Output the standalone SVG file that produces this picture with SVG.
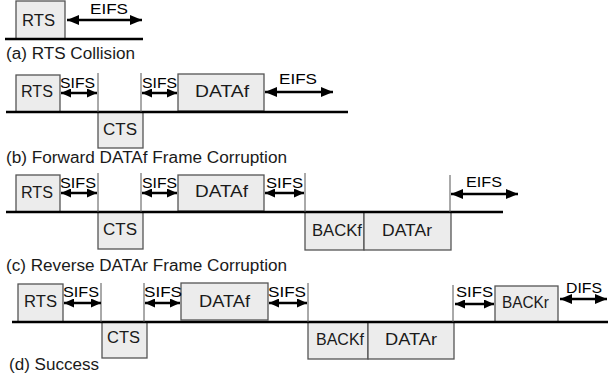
<svg xmlns="http://www.w3.org/2000/svg" width="608" height="381" viewBox="0 0 608 381">
<style>
text{font-family:"Liberation Sans",Arial,sans-serif;font-size:16px;fill:#1a1a1a}
.st{font-size:15.5px;fill:#000}
.box{fill:#ececec;stroke:#555;stroke-width:1.3}
.base{stroke:#000;stroke-width:2.4}
.vl{stroke:#555;stroke-width:1}
.ar{stroke:#000;stroke-width:2.5;marker-start:url(#h);marker-end:url(#h)}
.ars{stroke:#000;stroke-width:2.5;marker-start:url(#hs);marker-end:url(#hs)}
</style>
<defs>
<marker id="h" markerUnits="userSpaceOnUse" markerWidth="12" markerHeight="10" refX="12" refY="5" orient="auto-start-reverse" viewBox="0 0 12 10"><path d="M0,0 L12,5 L0,10 z" fill="#000"/></marker>
<marker id="hs" markerUnits="userSpaceOnUse" markerWidth="10" markerHeight="9" refX="10" refY="4.5" orient="auto-start-reverse" viewBox="0 0 10 9"><path d="M0,0 L10,4.5 L0,9 z" fill="#000"/></marker>
</defs>
<rect width="608" height="381" fill="#fff"/>

<!-- (a) -->
<g id="a-rts"><rect class="box" x="16" y="1" width="49" height="38"/><text x="22" y="26" textLength="33" lengthAdjust="spacingAndGlyphs">RTS</text></g>
<g id="connectors-a">
<line class="base" x1="5" y1="39" x2="143" y2="39"/>
<line class="ar" x1="67" y1="20" x2="142" y2="20"/>
<text class="st" x="90" y="14" textLength="38" lengthAdjust="spacingAndGlyphs">EIFS</text>
</g>
<text x="6" y="59" textLength="129" lengthAdjust="spacingAndGlyphs">(a) RTS Collision</text>

<!-- (b) -->
<g id="b-rts"><rect class="box" x="16" y="75" width="44" height="37"/><text x="21" y="97" textLength="32" lengthAdjust="spacingAndGlyphs">RTS</text></g>
<g id="b-cts"><rect class="box" x="98" y="112" width="45" height="36"/><text x="103" y="135" textLength="34" lengthAdjust="spacingAndGlyphs">CTS</text></g>
<g id="b-dataf"><rect class="box" x="178" y="74" width="86" height="37"/><text x="195" y="97" textLength="54" lengthAdjust="spacingAndGlyphs">DATAf</text></g>
<g id="connectors-b">
<line class="base" x1="6" y1="112" x2="348" y2="112"/>
<line class="vl" x1="98" y1="73" x2="98" y2="112"/>
<line class="vl" x1="141" y1="73" x2="141" y2="112"/>
<line class="ars" x1="61" y1="93" x2="97" y2="93"/>
<line class="ars" x1="142" y1="93" x2="177" y2="93"/>
<line class="ar" x1="265" y1="92" x2="333" y2="92"/>
<text class="st" x="60" y="88" textLength="35" lengthAdjust="spacingAndGlyphs">SIFS</text>
<text class="st" x="142" y="88" textLength="35" lengthAdjust="spacingAndGlyphs">SIFS</text>
<text class="st" x="279" y="84" textLength="38" lengthAdjust="spacingAndGlyphs">EIFS</text>
</g>
<text x="6" y="163" textLength="281" lengthAdjust="spacingAndGlyphs">(b) Forward DATAf Frame Corruption</text>

<!-- (c) -->
<g id="c-rts"><rect class="box" x="16" y="175" width="44" height="37"/><text x="21" y="198" textLength="32" lengthAdjust="spacingAndGlyphs">RTS</text></g>
<g id="c-cts"><rect class="box" x="98" y="212" width="45" height="37"/><text x="103" y="235" textLength="34" lengthAdjust="spacingAndGlyphs">CTS</text></g>
<g id="c-dataf"><rect class="box" x="178" y="175" width="86" height="36"/><text x="195" y="197" textLength="53" lengthAdjust="spacingAndGlyphs">DATAf</text></g>
<g id="c-backf"><rect class="box" x="305" y="212" width="59" height="38"/><text x="312" y="236" textLength="50" lengthAdjust="spacingAndGlyphs">BACKf</text></g>
<g id="c-datar"><rect class="box" x="364" y="212" width="87" height="38"/><text x="382" y="236" textLength="50" lengthAdjust="spacingAndGlyphs">DATAr</text></g>
<g id="connectors-c">
<line class="base" x1="6" y1="212" x2="503" y2="212"/>
<line class="vl" x1="98" y1="173" x2="98" y2="212"/>
<line class="vl" x1="141" y1="173" x2="141" y2="212"/>
<line class="vl" x1="305" y1="173" x2="305" y2="212"/>
<line class="vl" x1="450" y1="175" x2="450" y2="212"/>
<line class="ars" x1="61" y1="193" x2="97" y2="193"/>
<line class="ars" x1="142" y1="193" x2="177" y2="193"/>
<line class="ars" x1="265" y1="193" x2="304" y2="193"/>
<line class="ar" x1="451" y1="194" x2="518" y2="194"/>
<text class="st" x="60" y="188" textLength="36" lengthAdjust="spacingAndGlyphs">SIFS</text>
<text class="st" x="142" y="188" textLength="35" lengthAdjust="spacingAndGlyphs">SIFS</text>
<text class="st" x="266" y="188" textLength="37" lengthAdjust="spacingAndGlyphs">SIFS</text>
<text class="st" x="466" y="187" textLength="36" lengthAdjust="spacingAndGlyphs">EIFS</text>
</g>
<text x="6" y="271" textLength="281" lengthAdjust="spacingAndGlyphs">(c) Reverse DATAr Frame Corruption</text>

<!-- (d) -->
<g id="d-rts"><rect class="box" x="18" y="284" width="45" height="38"/><text x="24" y="307" textLength="33" lengthAdjust="spacingAndGlyphs">RTS</text></g>
<g id="d-cts"><rect class="box" x="102" y="322" width="45" height="36"/><text x="107" y="343" textLength="33" lengthAdjust="spacingAndGlyphs">CTS</text></g>
<g id="d-dataf"><rect class="box" x="181" y="283" width="87" height="37"/><text x="199" y="307" textLength="51" lengthAdjust="spacingAndGlyphs">DATAf</text></g>
<g id="d-backf"><rect class="box" x="308" y="322" width="60" height="37"/><text x="316" y="345" textLength="48" lengthAdjust="spacingAndGlyphs">BACKf</text></g>
<g id="d-datar"><rect class="box" x="368" y="322" width="86" height="37"/><text x="385" y="345" textLength="52" lengthAdjust="spacingAndGlyphs">DATAr</text></g>
<g id="d-backr"><rect class="box" x="495" y="286" width="63" height="36"/><text x="502" y="308" textLength="47" lengthAdjust="spacingAndGlyphs">BACKr</text></g>
<g id="connectors-d">
<line class="base" x1="12" y1="322" x2="608" y2="322"/>
<line class="vl" x1="101" y1="283" x2="101" y2="322"/>
<line class="vl" x1="144" y1="283" x2="144" y2="322"/>
<line class="vl" x1="308" y1="283" x2="308" y2="322"/>
<line class="vl" x1="453" y1="285" x2="453" y2="322"/>
<line class="ars" x1="64" y1="303" x2="101" y2="303"/>
<line class="ars" x1="145" y1="303" x2="180" y2="303"/>
<line class="ars" x1="269" y1="303" x2="307" y2="303"/>
<line class="ars" x1="455" y1="304" x2="494" y2="304"/>
<line class="ar" x1="560" y1="299" x2="607" y2="299"/>
<text class="st" x="63" y="297" textLength="36" lengthAdjust="spacingAndGlyphs">SIFS</text>
<text class="st" x="144" y="297" textLength="38" lengthAdjust="spacingAndGlyphs">SIFS</text>
<text class="st" x="268" y="297" textLength="38" lengthAdjust="spacingAndGlyphs">SIFS</text>
<text class="st" x="456" y="297" textLength="37" lengthAdjust="spacingAndGlyphs">SIFS</text>
<text class="st" x="566" y="293" textLength="36" lengthAdjust="spacingAndGlyphs">DIFS</text>
</g>
<text x="9" y="370" textLength="90" lengthAdjust="spacingAndGlyphs">(d) Success</text>
</svg>
